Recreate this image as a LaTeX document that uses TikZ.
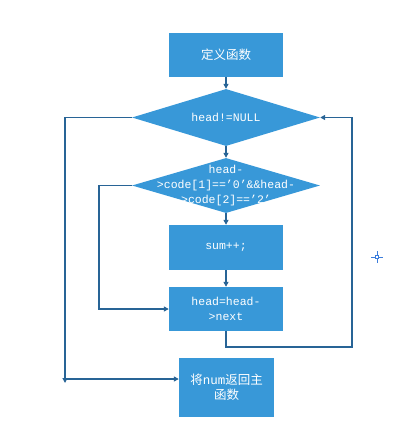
\documentclass[tikz,border=0pt]{standalone}
\usepackage{fontspec}
\setmainfont{Liberation Mono}
\newfontfamily\cjk{Noto Sans CJK SC}
\usetikzlibrary{shapes.geometric,arrows.meta,calc}
\definecolor{boxblue}{RGB}{56,152,216}
\definecolor{lineblue}{RGB}{40,100,150}
\definecolor{crossblue}{RGB}{60,125,220}
\tikzset{
  procbox/.style={draw=none,fill=boxblue,minimum width=114pt,inner sep=0pt,text=white,align=center,font=\fontsize{11.5}{15.5}\selectfont},
  decision/.style={diamond,draw=none,fill=boxblue,inner sep=0pt,minimum width=188pt},
  dtext/.style={text=white,align=center,inner sep=0pt,font=\fontsize{11.5}{15}\selectfont},
  arr/.style={draw=lineblue,line width=1.2pt,-{Triangle[length=5pt,width=5pt]}},
  ln/.style={draw=lineblue,line width=1.2pt},
}
\begin{document}
\begin{tikzpicture}[x=1pt,y=-1pt]
\useasboundingbox (0,0) rectangle (404,428);
\node[procbox,minimum height=44pt,font=\cjk\fontsize{12.5}{15}\selectfont] (b1) at (226,55) {定义函数};
\node[decision,minimum height=57pt] (d1) at (226,117.5) {};
\node[dtext] (d1t) at (d1.center) {head!=NULL};
\node[decision,minimum height=55pt] (d2) at (226,185.5) {};
\node[dtext] (d2t) at (226,186) {head-\\>code[1]==’0’\&\&head-\\>code[2]==’2’};
\node[procbox,minimum height=45pt] (b2) at (226,247.5) {sum++;};
\node[procbox,minimum height=44pt] (b3) at (226,309) {head=head-\\>next};
\node[procbox,minimum width=95pt,minimum height=59pt,font=\fontsize{12.5}{15}\selectfont] (b4) at (226.5,387.5) {{\cjk 将}num{\cjk 返回主}\\{\cjk 函数}};
% straight connectors
\draw[arr] (b1.south) -- (d1.north);
\draw[arr] (d1.south) -- (d2.north);
\draw[arr] (d2.south) -- (b2.north);
\draw[arr] (b2.south) -- (b3.north);
% outer left loop (exit)
\coordinate (L1) at (65,117.5);
\coordinate (L2) at (65,383);
\coordinate (J) at (65,379);
\draw[arr] (d1.west) -- (L1) -- (L2);
\draw[arr] (J) -- (J -| b4.west);
% inner left loop (false branch)
\coordinate (M1) at (99,185.5);
\coordinate (M2) at (99,309);
\draw[arr] (d2.west) -- (M1) -- (M2) -- (b3.west);
% right loop back
\coordinate (R1) at (226,347);
\coordinate (R2) at (352,347);
\coordinate (R3) at (352,117.5);
\draw[arr] (b3.south) -- (R1) -- (R2) -- (R3) -- (d1.east);
% stray crosshair
\coordinate (X) at (377,257);
\draw[crossblue,line width=1pt] ($(X)+(-6,0)$) -- ($(X)+(6,0)$) ($(X)+(0,-6)$) -- ($(X)+(0,6)$);
\draw[crossblue,line width=0.8pt,fill=white] ($(X)+(-1.8,-1.8)$) rectangle ($(X)+(1.8,1.8)$);
\end{tikzpicture}
\end{document}
